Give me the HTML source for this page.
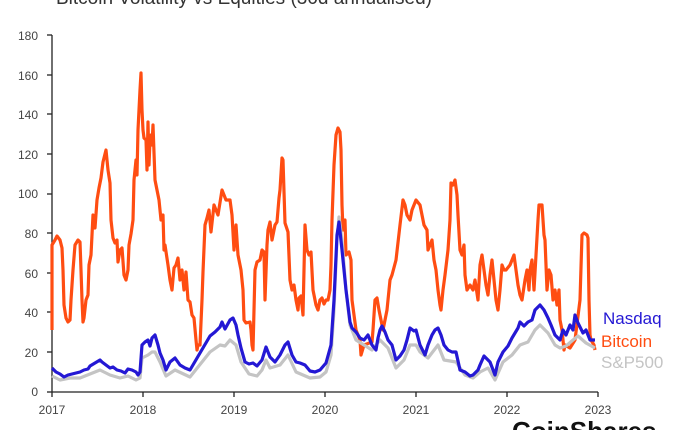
<!DOCTYPE html>
<html><head><meta charset="utf-8"><style>
html,body{margin:0;padding:0;background:#fff;width:695px;height:430px;overflow:hidden}
svg{display:block}
text{font-family:"Liberation Sans",sans-serif}
</style></head><body>
<svg width="695" height="430" viewBox="0 0 695 430" xmlns="http://www.w3.org/2000/svg">
<text x="56" y="4" font-size="19" fill="#333">Bitcoin Volatility vs Equities (30d annualised)</text>
<g font-size="12" fill="#444" text-anchor="end">
<text x="38" y="40">180</text><text x="38" y="80">160</text><text x="38" y="119">140</text><text x="38" y="159">120</text><text x="38" y="198">100</text><text x="38" y="238">80</text><text x="38" y="278">60</text><text x="38" y="317">40</text><text x="38" y="357">20</text><text x="38" y="396">0</text>
</g>
<g stroke="#222" stroke-width="1.3">
<line x1="52" y1="35" x2="52" y2="392"/><line x1="52" y1="392" x2="598" y2="392"/>
<line x1="47" y1="35" x2="52" y2="35"/><line x1="47" y1="75" x2="52" y2="75"/><line x1="47" y1="114" x2="52" y2="114"/><line x1="47" y1="154" x2="52" y2="154"/><line x1="47" y1="194" x2="52" y2="194"/><line x1="47" y1="233" x2="52" y2="233"/><line x1="47" y1="273" x2="52" y2="273"/><line x1="47" y1="312" x2="52" y2="312"/><line x1="47" y1="352" x2="52" y2="352"/><line x1="47" y1="392" x2="52" y2="392"/>
<line x1="52" y1="392" x2="52" y2="397"/><line x1="143" y1="392" x2="143" y2="397"/><line x1="234" y1="392" x2="234" y2="397"/><line x1="325" y1="392" x2="325" y2="397"/><line x1="416" y1="392" x2="416" y2="397"/><line x1="507" y1="392" x2="507" y2="397"/><line x1="598" y1="392" x2="598" y2="397"/>
</g>
<g font-size="12" fill="#444" text-anchor="middle">
<text x="52" y="414">2017</text><text x="143" y="414">2018</text><text x="234" y="414">2019</text><text x="325" y="414">2020</text><text x="416" y="414">2021</text><text x="507" y="414">2022</text><text x="598" y="414">2023</text>
</g>
<g fill="none" stroke-width="3.2" stroke-linejoin="round">
<polyline stroke="#ff4d12" points="52,330 52,245 55,240 57,236 60,240 62,248 63,270 64,305 66,318 68,322 70,320 71,300 72,285 73,270 75,245 78,240 80,242 81,270 82,300 83,322 84,318 86,300 88,295 89,265 91,255 93,215 95,228 97,200 99,188 101,178 103,162 106,150 108,170 110,183 111,220 113,238 115,243 117,240 118,262 120,250 122,248 124,275 126,280 128,270 129,245 131,234 133,220 134,180 136,160 137,175 138,130 139,110 140,90 141,73 142,110 143,130 144,138 146,140 147,170 148,122 149,165 150,140 151,135 152,145 153,125 155,180 157,190 159,200 161,220 163,215 164,250 165,245 168,265 170,280 172,290 174,268 176,265 178,258 180,280 182,270 184,290 186,272 188,300 190,302 192,315 194,318 196,340 197,350 198,345 200,345 202,300 203,272 205,225 207,218 209,210 211,232 214,205 218,215 222,190 226,200 230,200 232,215 234,250 236,225 238,255 241,270 243,290 244,320 246,323 250,322 251,330 252,345 253,350 255,270 257,262 260,260 262,250 264,252 265,300 267,245 268,230 270,222 272,240 275,225 277,222 279,198 280,190 282,158 283,160 285,223 288,232 290,280 292,290 294,285 296,300 298,310 299,298 301,296 303,315 305,225 307,250 309,255 311,252 313,290 316,305 318,310 320,300 322,298 324,304 326,300 328,300 330,290 331,265 332,220 334,165 336,135 338,128 340,132 341,150 342,205 343,230 345,220 346,255 349,252 351,260 352,300 356,330 360,340 361,355 364,345 372,342 373,330 375,300 377,298 379,310 383,330 387,310 390,280 392,275 396,260 400,225 403,200 405,205 407,215 410,220 412,210 416,200 420,205 424,225 427,230 428,250 432,240 434,260 436,270 438,290 440,305 441,310 443,290 445,275 448,250 450,220 451,183 453,185 455,180 457,195 458,215 460,250 462,255 464,245 465,275 467,290 470,285 473,290 475,280 478,300 480,265 482,255 484,270 486,285 488,295 490,275 492,260 494,280 496,300 498,310 500,290 502,265 504,270 506,270 510,265 512,260 514,255 516,270 518,285 520,295 522,300 525,280 527,270 529,290 530,270 532,260 534,290 536,255 538,220 539,205 542,205 544,235 545,240 547,290 549,270 551,275 553,300 555,290 557,305 559,290 560,320 562,330 564,350 565,345 570,348 575,340 580,300 582,235 584,233 587,235 588,238 589,300 590,335 591,340 594,345 595,350"/>
<polyline stroke="#c4c4c4" points="52,376 60,380 70,378 80,378 90,374 100,370 110,375 120,378 128,376 136,380 140,378 142,358 148,355 152,352 155,352 160,362 166,376 175,370 190,377 210,352 220,345 225,346 230,340 236,345 241,362 249,374 257,376 262,370 266,360 270,368 280,365 288,355 296,372 310,378 320,377 326,372 331,355 334,310 337,240 339,217 342,240 346,290 350,325 356,340 364,345 372,350 380,340 388,348 396,368 404,360 410,345 416,345 420,352 428,358 438,345 444,360 456,362 465,375 473,378 480,372 488,368 495,380 503,362 512,355 520,345 528,342 535,330 540,325 548,333 555,345 560,348 566,346 573,340 578,336 586,343 595,348"/>
<polyline stroke="#2418d4" points="52,368 56,372 60,374 64,377 68,375 72,374 76,373 80,372 84,370 88,369 90,366 95,363 100,360 102,362 106,365 110,368 113,367 117,370 121,371 125,373 128,369 132,370 136,372 138,375 140,372 142,345 145,342 148,340 150,346 152,338 155,335 158,345 160,353 163,360 166,370 170,362 175,358 180,365 185,368 190,370 210,336 215,332 220,327 222,322 225,329 230,320 233,318 236,325 238,335 241,348 245,362 249,364 253,363 257,366 262,360 266,347 270,357 275,362 280,355 285,345 288,342 292,355 296,362 300,363 305,365 310,371 315,372 320,370 326,363 331,345 334,300 337,235 339,222 342,250 346,290 350,322 352,328 356,332 360,338 364,340 368,335 372,345 376,350 378,338 380,330 382,326 385,332 388,340 392,345 396,360 400,356 404,350 407,340 410,328 414,331 416,330 420,345 425,355 428,345 432,335 435,330 438,328 441,335 444,345 448,350 452,352 456,352 460,370 465,372 470,376 473,375 478,370 480,365 484,356 488,360 490,362 495,375 498,362 503,352 508,346 512,338 518,328 520,322 524,326 528,322 532,320 535,310 540,305 544,310 548,318 551,325 555,335 560,340 563,330 566,335 570,325 573,330 575,315 578,323 583,333 586,330 590,340 595,340"/>
</g>
<g font-size="17">
<text x="603" y="324" fill="#2418d4">Nasdaq</text>
<text x="601" y="347" fill="#ff4d12">Bitcoin</text>
<text x="601" y="368" fill="#c4c4c4">S&amp;P500</text>
</g>
<text x="512" y="440" font-size="26" font-weight="bold" fill="#111">CoinShares</text>
</svg>
</body></html>
